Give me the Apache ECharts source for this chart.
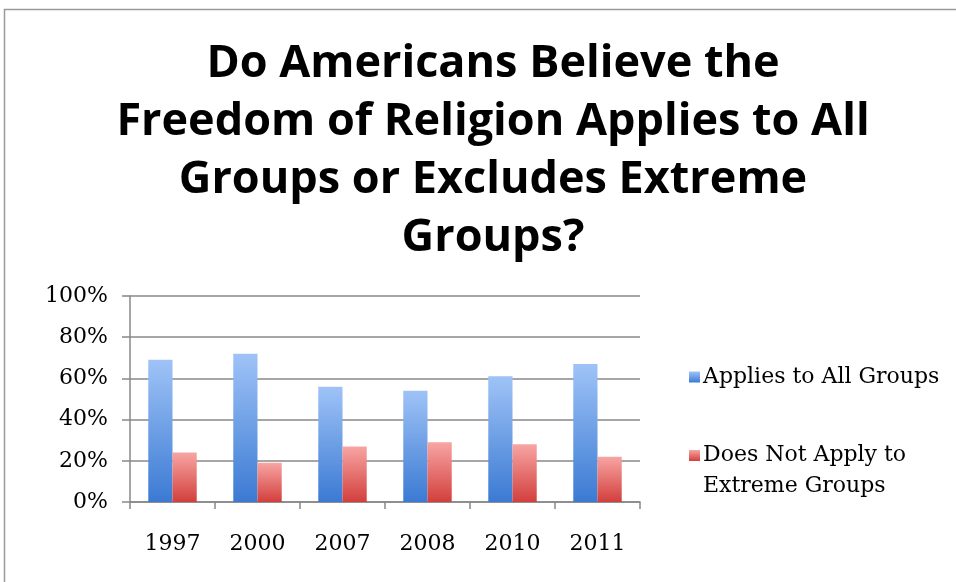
<!DOCTYPE html>
<html><head><meta charset="utf-8">
<script src="https://cdn.jsdelivr.net/npm/echarts@6/dist/echarts.min.js"></script>
<style>html,body{margin:0;padding:0;background:#fff}#c{width:956px;height:582px}</style>
</head><body><div id="c"></div>
<script>
const categories = ['1997','2000','2007','2008','2010','2011'];
const appliesAll = [69, 72, 56, 54, 61, 67];
const excludesExtreme = [24, 19, 27, 29, 28, 22];
const seriesNames = ['Applies to All Groups', 'Does Not Apply to Extreme Groups'];
const titleText = 'Do Americans Believe the\nFreedom of Religion Applies to All\nGroups or Excludes Extreme\nGroups?';

const chart = echarts.init(document.getElementById('c'));
const serif = 'DejaVu Serif';
function grad(top, bottom){
  return new echarts.graphic.LinearGradient(0,0,0,1,[{offset:0,color:top},{offset:1,color:bottom}]);
}
chart.setOption({
  animation:false,
  backgroundColor:'#fff',
  graphic:[{type:'rect',shape:{x:4.5,y:9.5,width:1200,height:1200},style:{fill:'none',stroke:'#9a9a9a',lineWidth:1.5},silent:true}],
  title:{
    text:titleText, left:488, textAlign:'center', top:30,
    textStyle:{fontFamily:'Open Sans',fontWeight:'bold',fontSize:45,lineHeight:58,color:'#000'}
  },
  legend:[{
    data:[seriesNames[0]], orient:'vertical', left:684, top:361,
    itemWidth:11, itemHeight:11, icon:'rect',
    textStyle:{fontFamily:serif,fontSize:22,color:'#000',padding:[0,0,0,-2]}
  },{
    data:[seriesNames[1]], orient:'vertical', left:684, top:404,
    itemWidth:11, itemHeight:11, icon:'rect',
    formatter:()=> '\nDoes Not Apply to\nExtreme Groups',
    textStyle:{fontFamily:serif,fontSize:22,color:'#000',lineHeight:31,padding:[0,0,0,-2]}
  }],
  grid:{left:130,right:316,top:296,bottom:80},
  xAxis:{
    type:'category', data:categories,
    axisLine:{lineStyle:{color:'#888',width:1.5}},
    axisTick:{show:true,length:7,lineStyle:{color:'#888',width:1.5}},
    axisLabel:{fontFamily:serif,fontSize:22,color:'#000',margin:31}
  },
  yAxis:{
    type:'value', min:0, max:100, interval:20,
    axisLine:{show:true,lineStyle:{color:'#888',width:1.5}},
    axisTick:{show:true,length:8,lineStyle:{color:'#888',width:1.5}},
    splitLine:{lineStyle:{color:'#888',width:1.5}},
    axisLabel:{fontFamily:serif,fontSize:22,color:'#000',margin:22,formatter:'{value}%'}
  },
  series:[{
    name:seriesNames[0], type:'bar', data:appliesAll, barGap:'0%', barCategoryGap:'43%',
    itemStyle:{color:grad('#9fc3f7','#3b7ad3')}
  },{
    name:seriesNames[1], type:'bar', data:excludesExtreme,
    itemStyle:{color:grad('#f7a5a3','#d23f3c')}
  }]
});
</script></body></html>
